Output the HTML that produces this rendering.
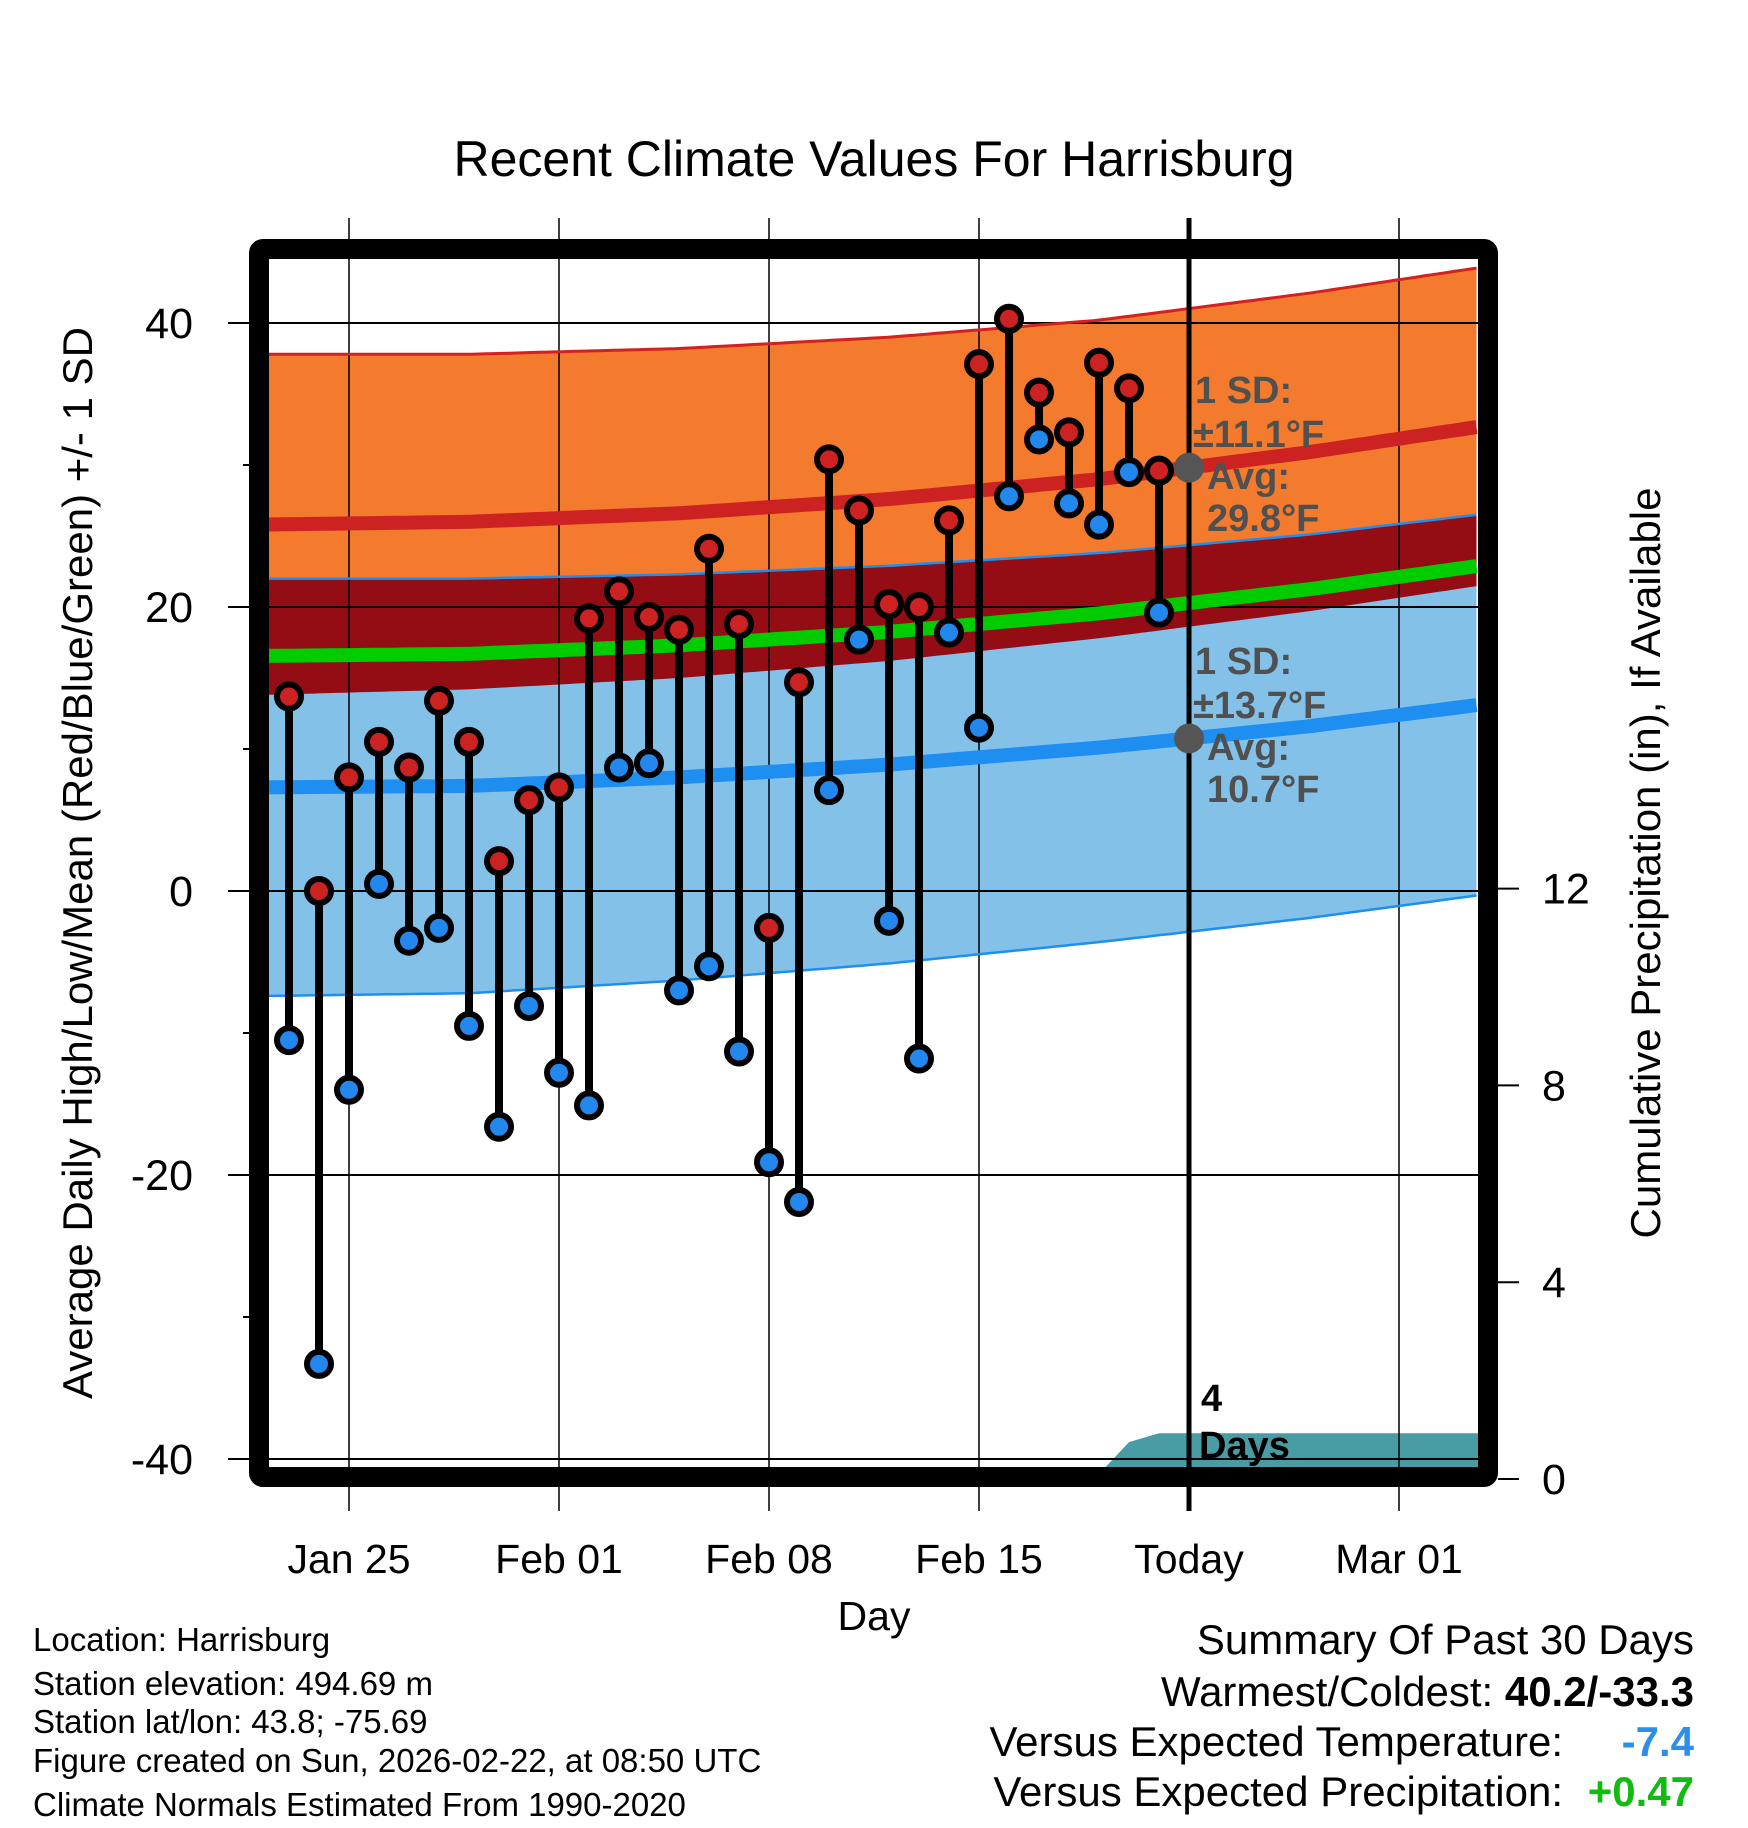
<!DOCTYPE html>
<html><head><meta charset="utf-8"><style>
html,body{margin:0;padding:0;background:#fff;}
svg{display:block;font-family:"Liberation Sans",Arial,sans-serif;}
</style></head><body>
<svg id="chart" width="1748" height="1828" viewBox="0 0 1748 1828" xmlns="http://www.w3.org/2000/svg">
<g id="fills"></g><g id="grid"></g><g id="lines"></g><g id="stems"></g><g id="marks"></g><g id="ann"></g>
<text x="874" y="176" font-size="50" text-anchor="middle">Recent Climate Values For Harrisburg</text>
<text transform="translate(92,863) rotate(-90)" font-size="42" text-anchor="middle">Average Daily High/Low/Mean (Red/Blue/Green) +/- 1 SD</text>
<text transform="translate(1660,863) rotate(-90)" font-size="42" text-anchor="middle">Cumulative Precipitation (in), If Available</text>
<text x="874" y="1630" font-size="41" text-anchor="middle">Day</text>
<g font-size="33">
<text x="33" y="1651">Location: Harrisburg</text>
<text x="33" y="1695">Station elevation: 494.69 m</text>
<text x="33" y="1733">Station lat/lon: 43.8; -75.69</text>
<text x="33" y="1772">Figure created on Sun, 2026-02-22, at 08:50 UTC</text>
<text x="33" y="1816">Climate Normals Estimated From 1990-2020</text>
</g>
<g font-size="42" text-anchor="end">
<text x="1694" y="1654">Summary Of Past 30 Days</text>
<text x="1694" y="1706">Warmest/Coldest: <tspan font-weight="bold">40.2/-33.3</tspan></text>
<text x="1563" y="1756">Versus Expected Temperature:</text>
<text x="1694" y="1756" font-weight="bold" fill="#2d8fe8">-7.4</text>
<text x="1563" y="1806">Versus Expected Precipitation:</text>
<text x="1694" y="1806" font-weight="bold" fill="#11bb11">+0.47</text>
</g>
</svg>
<script>
// ---- data ----
const normDays = [-3, 4, 11, 18, 25, 32, 38]; // days since Jan 25
const highMean = [25.8, 26.0, 26.6, 27.6, 29.0, 30.9, 32.8];
const highSD   = [12.0, 11.8, 11.6, 11.4, 11.2, 11.2, 11.2];
const lowMean  = [7.3, 7.4, 8.0, 8.9, 10.1, 11.6, 13.2];
const lowSD    = [14.7, 14.6, 14.3, 14.0, 13.7, 13.5, 13.4];
const obsStart = -2; // Jan 23
const highs = [13.7,0,8.0,10.5,8.7,13.4,10.5,2.1,6.4,7.3,19.2,21.1,19.3,18.4,24.1,18.8,-2.6,14.7,30.4,26.8,20.2,20.0,26.1,37.1,40.3,35.1,32.3,37.2,35.4,29.6];
const lows  = [-10.5,-33.3,-14.0,0.5,-3.5,-2.6,-9.5,-16.6,-8.1,-12.8,-15.1,8.7,9.0,-7.0,-5.3,-11.3,-19.1,-21.9,7.1,17.7,-2.1,-11.8,18.2,11.5,27.8,31.8,27.3,25.8,29.5,19.6];
const precipDays = [-2, 24, 25, 26, 27, 38];
const precipVals = [0, 0, 0.1, 0.75, 0.93, 0.93];
const xTickDays = [0, 7, 14, 21, 28, 35];
const xTickLabels = ["Jan 25","Feb 01","Feb 08","Feb 15","Today","Mar 01"];
const yTicks = [40, 20, 0, -20, -40];
const yMinor = [30, 10, -10, -30];
const y2Ticks = [0, 4, 8, 12];
const todayDay = 28;

// ---- axes ----
const L=269, R=1478, T=259, B=1467;
const X = d => 349 + d*30;
const Y = v => 891 - v*14.2;
const Y2 = p => 1479 - p*49.2;
const NS='http://www.w3.org/2000/svg';
function mk(tag, attrs, parent){const e=document.createElementNS(NS,tag);for(const k in attrs)e.setAttribute(k,attrs[k]);parent.appendChild(e);return e;}
function interp(arr, d){
  for(let i=0;i<normDays.length-1;i++){
    if(d<=normDays[i+1]){const t=(d-normDays[i])/(normDays[i+1]-normDays[i]);
      return arr[i]+(arr[i+1]-arr[i])*t;}
  }
  return arr[arr.length-1];
}
const svg=document.getElementById('chart');
const defs=mk('defs',{},svg);
const cp=mk('clipPath',{id:'plotclip'},defs);
mk('rect',{x:L,y:T,width:R-L,height:B-T},cp);
const dMin=(L-349)/30, dMax=(R-349)/30;
const samples=[];for(let d=dMin; d<=dMax+0.001; d+=0.25) samples.push(d);
function curve(fn){return samples.map(d=>X(d).toFixed(1)+','+Y(fn(d)).toFixed(1));}
function band(top,bot){return curve(top).concat(curve(bot).reverse()).join(' ');}
const hm=d=>interp(highMean,d), hs=d=>interp(highSD,d), lm=d=>interp(lowMean,d), ls=d=>interp(lowSD,d);
const fills=document.getElementById('fills'); fills.setAttribute('clip-path','url(#plotclip)');
let e;
e=mk('polygon',{points:band(d=>hm(d)+hs(d),d=>hm(d)-hs(d)),fill:'#f47a2e'},fills);


e=mk('polygon',{points:band(d=>lm(d)+ls(d),d=>lm(d)-ls(d)),fill:'#84c1e8'},fills);


e=mk('polygon',{points:band(d=>lm(d)+ls(d),d=>hm(d)-hs(d)),fill:'#940c14'},fills);


// precip
let pp=[];
for(let i=0;i<precipDays.length;i++) pp.push(X(precipDays[i])+','+Y2(precipVals[i]));
pp.push(X(precipDays[precipDays.length-1])+','+(B+20)); pp.push(X(precipDays[0])+','+(B+20));
e=mk('polygon',{points:pp.join(' '),fill:'#4a9ca4'},fills);



// grid
const grid=document.getElementById('grid');
yTicks.forEach(v=>{
  e=mk('line',{x1:228,x2:R,y1:Y(v),y2:Y(v),stroke:'#000','stroke-width':2},grid);
  
  
  e=mk('text',{x:193,y:Y(v)+15,'font-size':43,'text-anchor':'end'},grid); e.textContent=v;
  
  
});
yMinor.forEach(v=>{mk('line',{x1:243,x2:252,y1:Y(v),y2:Y(v),stroke:'#000','stroke-width':2},grid);});
xTickDays.forEach((d,i)=>{
  if(d!==todayDay){e=mk('line',{x1:X(d),x2:X(d),y1:218,y2:1511,stroke:'#000','stroke-width':1.5},grid);
  
  }
  e=mk('text',{x:X(d),y:1573,'font-size':41,'text-anchor':'middle'},grid); e.textContent=xTickLabels[i];
  
  
});
y2Ticks.forEach(p=>{
  mk('line',{x1:1498,x2:1519,y1:Y2(p),y2:Y2(p),stroke:'#000','stroke-width':2},grid);
  e=mk('text',{x:1542,y:Y2(p)+15,'font-size':43},grid); e.textContent=p;
  
  
});

// lines
const lines=document.getElementById('lines'); lines.setAttribute('clip-path','url(#plotclip)');
function pl(fn,col,w,name){e=mk('polyline',{points:curve(fn).join(' '),fill:'none',stroke:col,'stroke-width':w},lines);
  
  }
pl(d=>hm(d)+hs(d),'#d42020',3,'high-plus-sd-line');
pl(d=>lm(d)+ls(d),'#1e8ff0',2.5,'low-plus-sd-line');
pl(d=>lm(d)-ls(d),'#1e8ff0',2.5,'low-minus-sd-line');
pl(d=>(hm(d)+lm(d))/2,'#00cc00',14,'mean-line');
pl(hm,'#cc2222',14,'high-mean-line');
pl(lm,'#1e8ff0',14,'low-mean-line');
// today line
e=mk('line',{x1:X(todayDay),x2:X(todayDay),y1:218,y2:1511,stroke:'#000','stroke-width':5},svg.querySelector('#ann'));



// stems & markers
const stems=document.getElementById('stems'), marks=document.getElementById('marks');
highs.forEach((h,i)=>{
  const x=X(obsStart+i);
  e=mk('line',{x1:x,x2:x,y1:Y(h),y2:Y(lows[i]),stroke:'#000','stroke-width':8},stems);
  
  
  e=mk('circle',{cx:x,cy:Y(h),r:12,fill:'#cc2222',stroke:'#000','stroke-width':6},marks);
  
  
  e=mk('circle',{cx:x,cy:Y(lows[i]),r:12,fill:'#2288ee',stroke:'#000','stroke-width':6},marks);
  
  
});

// annotations
const ann=document.getElementById('ann');
const tx=X(todayDay);
e=mk('circle',{cx:tx,cy:Y(hm(todayDay)),r:15,fill:'#555'},ann);


e=mk('circle',{cx:tx,cy:Y(lm(todayDay)),r:15,fill:'#555'},ann);


function at(x,y,s,name,col,fs){e=mk('text',{x:x,y:y,'font-size':fs||38,'font-weight':'bold',fill:col||'#505050'},ann);e.textContent=s;
  
  }
at(1195,403,'1 SD:','high-sd-label');
at(1193,447,'±11.1°F','high-sd-value');
at(1207,489,'Avg:','high-avg-label');
at(1207,531,'29.8°F','high-avg-value');
at(1195,674,'1 SD:','low-sd-label');
at(1193,718,'±13.7°F','low-sd-value');
at(1207,760,'Avg:','low-avg-label');
at(1207,802,'10.7°F','low-avg-value');
at(1201,1411,'4','days-count','#000',38);
at(1199,1458,'Days','days-label','#000',38);

// frame
e=mk('rect',{x:259,y:249,width:1229,height:1228,rx:4,fill:'none',stroke:'#000','stroke-width':20},svg);


</script>
</body></html>
